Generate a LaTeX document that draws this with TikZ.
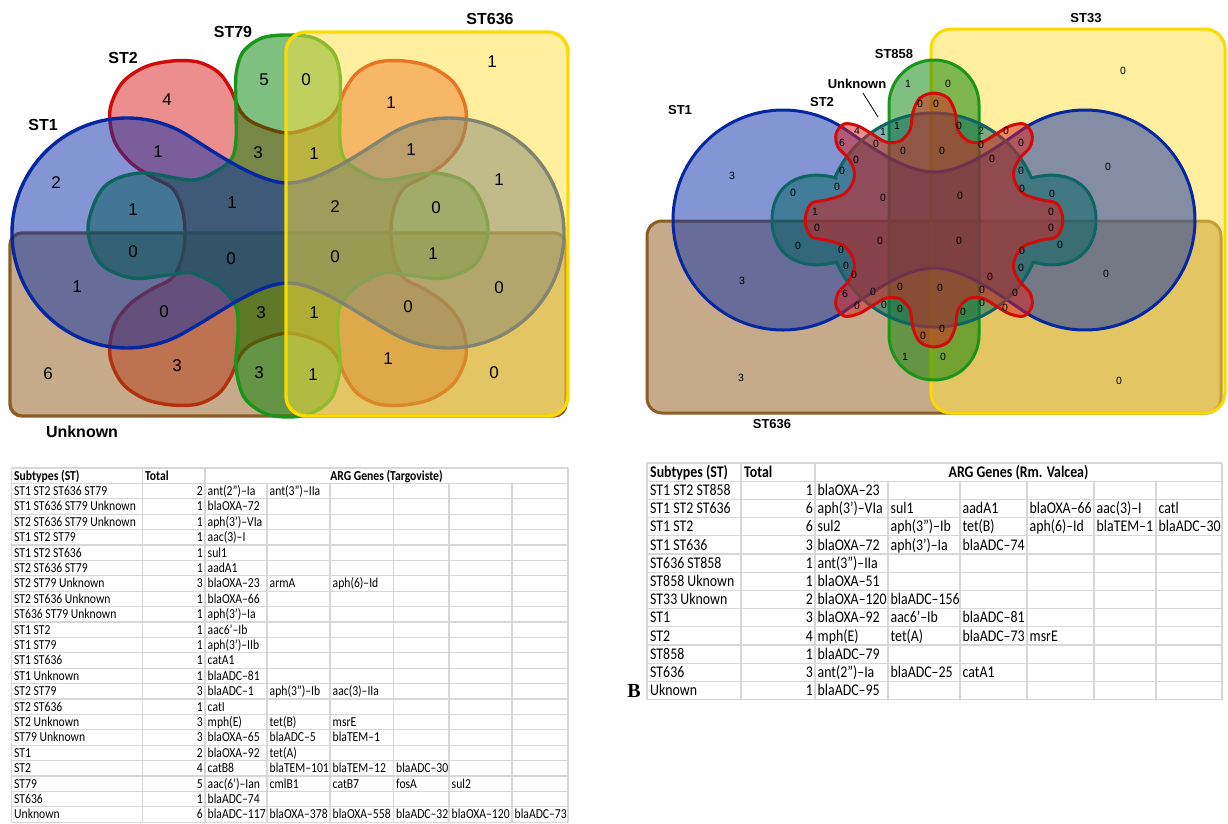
\documentclass[tikz,border=0pt]{standalone}
\usepackage{fontspec}
\setmainfont{Liberation Sans}
\newfontfamily\tabfont[FakeStretch=0.85]{Carlito}
\newfontfamily\bserif{Liberation Serif}
\definecolor{fblue}{RGB}{9,47,169}
\definecolor{sblue}{RGB}{5,40,160}
\definecolor{fred}{RGB}{221,31,31}
\definecolor{sred}{RGB}{210,10,10}
\definecolor{fgreen}{RGB}{1,129,1}
\definecolor{sgreen}{RGB}{25,150,25}
\definecolor{fyel}{RGB}{255,225,65}
\definecolor{syel}{RGB}{250,218,0}
\definecolor{fbrown}{RGB}{145,87,21}
\definecolor{sbrown}{RGB}{140,92,35}
\definecolor{fteal}{RGB}{0,100,95}
\definecolor{steal}{RGB}{15,100,100}
\definecolor{gridc}{RGB}{215,215,215}
\tikzset{
  vset/.style={fill opacity=0.5, line width=3.4pt, line join=round},
  rset/.style={fill opacity=0.5, line width=3pt, line join=round},
  lnum/.style={font=\fontsize{17}{20}\selectfont, inner sep=0pt},
  rnum/.style={font=\fontsize{10.5}{12}\selectfont, inner sep=0pt},
  llab/.style={font=\bfseries\fontsize{16}{18}\selectfont, inner sep=0pt},
  rlab/.style={font=\bfseries\fontsize{13}{15}\selectfont, inner sep=0pt},
  gridline/.style={draw=gridc, line width=1.2pt},
  ltxt/.style={font=\tabfont\fontsize{13.7}{15}\selectfont, inner sep=0pt, anchor=base west},
  rtxt/.style={font=\tabfont\fontsize{16.3}{18}\selectfont, inner sep=0pt, anchor=base west},
}
\begin{document}
\begin{tikzpicture}[x=1pt,y=-1pt]
\fill[white] (0,0) rectangle (1228,823);
\useasboundingbox (0,0) rectangle (1228,823);

% ================= LEFT VENN =================
% ST2
\draw[vset, draw=sred, fill=fred] plot[smooth cycle, tension=0.55] coordinates {
 (288,133) (256,124) (241,112) (230,88) (218,72) (198,62) (172,61) (145,67) (122,83) (110,110) (114,140) (130,162) (152,177) (172,188) (182,208) (185,233)
 (182,258) (172,278) (152,289) (130,304) (114,326) (110,356) (122,383) (145,399) (172,405) (198,404) (218,394) (230,378) (241,354) (256,342) (288,333)
 (320,342) (335,354) (346,378) (358,394) (378,404) (404,405) (431,399) (454,383) (466,356) (462,326) (446,304) (424,289) (404,278) (394,258) (391,233)
 (394,208) (404,188) (424,177) (446,162) (462,140) (466,110) (454,83) (431,67) (404,61) (378,62) (358,72) (346,88) (335,112) (320,124)};
% Unknown
\draw[vset, draw=sbrown, fill=fbrown, rounded corners=12pt] (10,233) rectangle (566,416);
% ST79
\draw[vset, draw=sgreen, fill=fgreen] plot[smooth cycle, tension=0.55] coordinates {
 (288,35) (262,38) (243,52) (236,75) (236,110) (236,140) (232,158) (218,170) (192,180) (140,173) (104,187) (88,227) (100,263) (132,278) (168,275) (192,273) (220,287) (236,307) (238,333) (236,367) (244,397) (264,413) (288,417)
 (312,413) (332,397) (340,367) (338,333) (340,307) (356,287) (384,273) (408,275) (444,278) (476,263) (488,227) (472,187) (436,173) (384,180) (358,170) (344,158) (340,140) (340,110) (340,75) (333,52) (314,38)};
% ST1
\draw[vset, draw=sblue, fill=fblue] (288,183) .. controls (258,183) and (214,152) .. (188.6,135.9)
  arc[start angle=-57.6, end angle=-302.4, radius=115]
  .. controls (218,314) and (258,283) .. (288,283)
  .. controls (318,283) and (358,314) .. (387.4,330.1)
  arc[start angle=122.4, end angle=-122.4, radius=115]
  .. controls (362,152) and (318,183) .. (288,183) -- cycle;
% ST636
\draw[vset, draw=syel, fill=fyel, rounded corners=20pt] (286,32) rectangle (568,416);

\node[llab] (lST1) at (43,125) {ST1};
\node[llab] (lST2) at (123,58) {ST2};
\node[llab] (lST79) at (233,32) {ST79};
\node[llab] (lST636) at (490,19) {ST636};
\node[llab] (lUnk) at (82,432) {Unknown};

\foreach \x/\y/\t [count=\i] in {492/62/1, 264/80/5, 306/80/0, 167/100/4, 391/103/1, 158/152/1, 258/153/3, 314/154/1, 411/150/1,
  56/183/2, 499/180/1, 133/210/1, 232/203/1, 335/207/2, 436/208/0, 133/252/0, 231/259/0, 335/257/0, 433/254/1,
  77/287/1, 499/288/0, 164/312/0, 261/313/3, 314/313/1, 408/307/0, 48/374/6, 177/366/3, 259/373/3, 313/375/1,
  388/359/1, 494/373/0}
  {\node[lnum] (ln\i) at (\x,\y) {\t};}

% ================= RIGHT VENN =================
% ST636
\draw[rset, draw=sbrown, fill=fbrown, rounded corners=15pt] (647,221) rectangle (1221,413);
% ST33
\draw[rset, draw=syel, fill=fyel, rounded corners=20pt] (931,29) rectangle (1225,413);
% ST858
\draw[rset, draw=sgreen, fill=fgreen, rounded corners=45pt] (889,60) rectangle (979,380);
% ST1
\draw[rset, draw=sblue, fill=fblue] (934,172) .. controls (905,172) and (871,147) .. (846.1,129.9)
  arc[start angle=-55, end angle=-305, radius=110]
  .. controls (871,293) and (905,268) .. (934,268)
  .. controls (963,268) and (997,293) .. (1021.9,310.1)
  arc[start angle=125, end angle=-125, radius=110]
  .. controls (997,147) and (963,172) .. (934,172) -- cycle;
% Unknown
\draw[rset, draw=steal, fill=fteal] (836.5,178) .. controls (800,168) and (772,185) .. (772,220)
  .. controls (772,255) and (800,272) .. (836.5,262)
  arc[start angle=156.9, end angle=23.1, radius=107]
  .. controls (1068,272) and (1096,255) .. (1096,220)
  .. controls (1096,185) and (1068,168) .. (1031.5,178)
  arc[start angle=-23.1, end angle=-156.9, radius=107] -- cycle;
% ST2
\begin{scope}[shift={(934,220)}]
\draw[rset, draw=sred, fill=fred] plot[smooth cycle, tension=0.55] coordinates {
 (0,-127) (-14,-122) (-21,-108) (-24,-90) (-34,-79) (-48,-78) (-62,-86) (-76,-94) (-90,-96) (-98,-86) (-96,-73) (-86,-62) (-80,-50) (-81,-38) (-90,-26) (-108,-20) (-122,-17) (-128,-6)
 (-128,6) (-122,17) (-108,20) (-90,26) (-81,38) (-80,50) (-86,62) (-96,73) (-98,86) (-90,96) (-76,94) (-62,86) (-48,78) (-34,79) (-24,90) (-21,108) (-14,122) (0,127)
 (14,122) (21,108) (24,90) (34,79) (48,78) (62,86) (76,94) (90,96) (98,86) (96,73) (86,62) (80,50) (81,38) (90,26) (108,20) (122,17) (128,6)
 (128,-6) (122,-17) (108,-20) (90,-26) (81,-38) (80,-50) (86,-62) (96,-73) (98,-86) (90,-96) (76,-94) (62,-86) (48,-78) (34,-79) (24,-90) (21,-108) (14,-122)};
\end{scope}

\node[rlab] (rST1) at (680,110) {ST1};
\node[rlab] (rST2) at (822,102) {ST2};
\node[rlab] (rUnk) at (857,84) {Unknown};
\node[rlab] (rST858) at (894,54) {ST858};
\node[rlab] (rST33) at (1086,18) {ST33};
\node[rlab] (rST636) at (772,424) {ST636};
\coordinate (ukA) at (863,93);
\coordinate (ukB) at (878,117);
\draw[line width=0.8pt] (ukA) -- (ukB);

\foreach \x/\y/\t [count=\i] in {732/176/3, 742/281/3, 741/378/3,
 793/193/0, 798/246/0, 883/198/0, 880/241/0, 960/196/0, 959/241/0,
 857/131/4, 883/132/1, 897/126/1, 842/143/6, 876/144/0, 903/151/0, 942/151/0,
 856/160/0, 842/171/0, 837/187/0, 815/212/1, 817/228/0, 841/250/0, 846/266/0, 854/275/0,
 845/294/6, 873/292/0, 900/287/0, 940/288/0, 857/306/0, 884/305/0, 900/309/0,
 923/336/0, 942/329/0, 905/357/1, 943/357/0,
 908/84/1, 948/84/0, 920/104/0, 936/104/0,
 959/126/0, 981/131/2, 1006/131/0, 1021/143/0, 981/145/0, 992/159/0, 1021/171/0, 1022/189/0,
 1052/194/0, 1051/212/0, 1051/228/0, 1060/245/0, 1022/251/0, 1021/268/0,
 990/277/0, 982/290/0, 982/303/0, 963/312/0, 1005/308/0, 1015/293/0,
 1108/167/0, 1106/274/0, 1123/71/0, 1119/381/0}
 {\node[rnum] (rn\i) at (\x,\y) {\t};}

% ================= LEFT TABLE =================
\foreach \k in {0,...,23} \draw[gridline] (11.5,468+\k*15.4) -- (568,468+\k*15.4);
\foreach \x in {11.5,142.5,205,568} \draw[gridline] (\x,468) -- (\x,822.2);
\foreach \x in {267,330,393.5,449,512} \draw[gridline] (\x,483.4) -- (\x,822.2);
\node[ltxt, font=\tabfont\bfseries\fontsize{13.7}{15}\selectfont] (lh1) at (14,480) {Subtypes (ST)};
\node[ltxt, font=\tabfont\bfseries\fontsize{13.7}{15}\selectfont] (lh2) at (145,480) {Total};
\node[ltxt, anchor=base, font=\tabfont\bfseries\fontsize{13.7}{15}\selectfont] (lh3) at (386.5,480) {ARG Genes (Targoviste)};
\foreach \st/\tot/\genes [count=\r] in {
 {ST1 ST2 ST636 ST79}/2/{ant(2”)–Ia,ant(3”)–IIa},
 {ST1 ST636 ST79 Unknown}/1/{blaOXA–72},
 {ST2 ST636 ST79 Unknown}/1/{aph(3’)–VIa},
 {ST1 ST2 ST79}/1/{aac(3)–I},
 {ST1 ST2 ST636}/1/{sul1},
 {ST2 ST636 ST79}/1/{aadA1},
 {ST2 ST79 Unknown}/3/{blaOXA–23,armA,aph(6)–Id},
 {ST2 ST636 Unknown}/1/{blaOXA–66},
 {ST636 ST79 Unknown}/1/{aph(3’)–Ia},
 {ST1 ST2}/1/{aac6’–Ib},
 {ST1 ST79}/1/{aph(3’)–IIb},
 {ST1 ST636}/1/{catA1},
 {ST1 Unknown}/1/{blaADC–81},
 {ST2 ST79}/3/{blaADC–1,aph(3”)–Ib,aac(3)–IIa},
 {ST2 ST636}/1/{catI},
 {ST2 Unknown}/3/{mph(E),tet(B),msrE},
 {ST79 Unknown}/3/{blaOXA–65,blaADC–5,blaTEM–1},
 {ST1}/2/{blaOXA–92,tet(A)},
 {ST2}/4/{catB8,blaTEM–101,blaTEM–12,blaADC–30},
 {ST79}/5/{aac(6’)–Ian,cmlB1,catB7,fosA,sul2},
 {ST636}/1/{blaADC–74},
 {Unknown}/6/{blaADC–117,blaOXA–378,blaOXA–558,blaADC–32,blaOXA–120,blaADC–73}}{
  \pgfmathsetmacro\by{483.4+(\r-1)*15.4+12}
  \node[ltxt] (lts\r) at (14,\by) {\st};
  \node[ltxt, anchor=base east] (ltt\r) at (203,\by) {\tot};
  \foreach \g [count=\c from 0] in \genes {
    \pgfmathsetmacro\gx{{205,267,330,393.5,449,512}[\c]+2.5}
    \node[ltxt] (ltg\r-\c) at (\gx,\by) {\g};
  }
}

% ================= RIGHT TABLE =================
\foreach \k in {0,...,13} \draw[gridline] (647,463+\k*18.2) -- (1222,463+\k*18.2);
\foreach \x in {647,741,815,1222} \draw[gridline] (\x,463) -- (\x,699.6);
\foreach \x in {888,960,1027,1094,1156} \draw[gridline] (\x,481.2) -- (\x,699.6);
\node[rtxt, font=\tabfont\bfseries\fontsize{16.3}{18}\selectfont] (rh1) at (650,477.3) {Subtypes (ST)};
\node[rtxt, font=\tabfont\bfseries\fontsize{16.3}{18}\selectfont] (rh2) at (744,477.3) {Total};
\node[rtxt, anchor=base, font=\tabfont\bfseries\fontsize{16.3}{18}\selectfont] (rh3) at (1018.5,477.3) {ARG Genes (Rm. Valcea)};
\foreach \st/\tot/\genes [count=\r] in {
 {ST1 ST2 ST858}/1/{blaOXA–23},
 {ST1 ST2 ST636}/6/{aph(3’)–VIa,sul1,aadA1,blaOXA–66,aac(3)–I,catl},
 {ST1 ST2}/6/{sul2,aph(3”)–Ib,tet(B),aph(6)–Id,blaTEM–1,blaADC–30},
 {ST1 ST636}/3/{blaOXA–72,aph(3’)–Ia,blaADC–74},
 {ST636 ST858}/1/{ant(3”)–IIa},
 {ST858 Uknown}/1/{blaOXA–51},
 {ST33 Uknown}/2/{blaOXA–120,blaADC–156},
 {ST1}/3/{blaOXA–92,aac6’–Ib,blaADC–81},
 {ST2}/4/{mph(E),tet(A),blaADC–73,msrE},
 {ST858}/1/{blaADC–79},
 {ST636}/3/{ant(2”)–Ia,blaADC–25,catA1},
 {Uknown}/1/{blaADC–95}}{
  \pgfmathsetmacro\by{481.2+(\r-1)*18.2+14.3}
  \node[rtxt] (rts\r) at (650,\by) {\st};
  \node[rtxt, anchor=base east] (rtt\r) at (813,\by) {\tot};
  \foreach \g [count=\c from 0] in \genes {
    \pgfmathsetmacro\gx{{815,888,960,1027,1094,1156}[\c]+2.5}
    \node[rtxt] (rtg\r-\c) at (\gx,\by) {\g};
  }
}
\node[font=\bserif\bfseries\fontsize{20}{22}\selectfont, inner sep=0pt] (Blab) at (634,691) {B};
\end{tikzpicture}
\end{document}
